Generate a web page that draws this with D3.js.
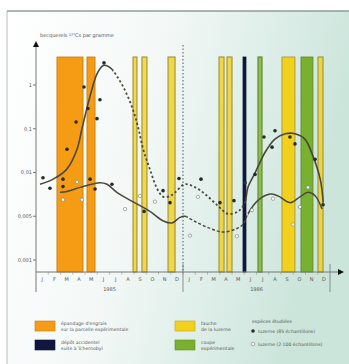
<!DOCTYPE html>
<html>
<head>
<meta charset="utf-8">
<script src="https://cdn.jsdelivr.net/npm/d3@7"></script>
<style>
  body { margin: 0; background: #fff; }
  text { font-family: "DejaVu Sans", sans-serif; fill: #555; }
</style>
</head>
<body>
<script>
// donnees
const months = ["J","F","M","A","M","J","J","A","S","O","N","D"];
const years = ["1985","1986"];
const yTicks = [1, 0.1, 0.01, 0.005, 0.001];
const yTickLabels = ["1","0,1","0,01","0,005","0,001"];

// periodes (en mois depuis janvier de la 1re annee)
const bands = [
  {type:"engrais", start:1.71, end:3.84},
  {type:"engrais", start:4.16, end:4.82},
  {type:"fauche", start:7.92, end:8.24},
  {type:"fauche", start:8.65, end:9.06},
  {type:"fauche", start:10.78, end:11.35},
  {type:"fauche", start:14.94, end:15.35},
  {type:"fauche", start:15.59, end:16.0},
  {type:"accident", start:16.9, end:17.14},
  {type:"coupe", start:18.12, end:18.45},
  {type:"fauche", start:20.08, end:21.14},
  {type:"coupe", start:21.63, end:22.61},
  {type:"fauche", start:23.02, end:23.43}
];

// courbes de tendance [mois, valeur]
const upperTrend = [[0.33,0.0083],[1.4,0.009],[2.5,0.0118],[3.35,0.034],[3.75,0.1],[4.4,0.54],[5.0,1.85],[5.5,2.8],[6.05,2.5],[6.45,1.85],[7.25,0.77],[7.9,0.28],[8.33,0.11],[8.75,0.034],[9.3,0.0118],[9.9,0.0077],[10.4,0.0068],[10.95,0.0069],[11.35,0.0073],[12.15,0.0083],[13.0,0.0079],[13.8,0.0071],[14.85,0.0059],[15.65,0.0052],[16.5,0.0054],[17.05,0.0062],[17.3,0.0079],[17.9,0.01],[18.7,0.029],[19.5,0.058],[20.35,0.077],[21.15,0.077],[21.95,0.058],[22.6,0.024],[23.2,0.009],[23.45,0.0062]];
const lowerTrend = [[1.96,0.0073],[2.53,0.0074],[3.6,0.0079],[5.2,0.0085],[5.8,0.0083],[6.6,0.0073],[7.9,0.0063],[9.3,0.0054],[10.4,0.0042],[11.1,0.0039],[11.75,0.0048],[12.15,0.005],[13.0,0.0041],[14.05,0.0033],[15.2,0.0028],[16.25,0.0031],[16.9,0.0037],[17.3,0.0052],[18.1,0.0064],[19.1,0.0071],[19.75,0.0069],[20.75,0.0062],[21.55,0.0068],[22.2,0.0073],[22.8,0.0069],[23.35,0.0056]];
const upperDashed = [6.3, 17.1];
const lowerDashed = [12.3, 17.3];

// mesures
const filledPoints = [[0.57,0.0092],[1.14,0.0078],[2.2,0.009],[2.2,0.008],[2.53,0.034],[3.27,0.143],[3.92,0.9],[4.24,0.29],[4.98,0.17],[5.22,0.46],[5.55,3.2],[4.41,0.009],[4.82,0.0077],[6.2,0.0083],[8.82,0.0054],[10.37,0.0075],[10.94,0.0062],[11.67,0.0091],[13.47,0.009],[15.02,0.0062],[16.16,0.0064],[17.06,0.0085],[17.88,0.0097],[18.61,0.065],[19.27,0.038],[19.51,0.09],[20.73,0.065],[21.14,0.045],[22.78,0.02],[23.43,0.006]];
const openPoints = [[2.2,0.0065],[3.35,0.0086],[3.76,0.0065],[7.27,0.0056],[8.49,0.0069],[9.71,0.0063],[12.57,0.00245],[13.22,0.0068],[16.4,0.0024],[17.63,0.0055],[19.35,0.0066],[20.98,0.0037],[21.55,0.0058],[22.2,0.0079]];

const legendBands = [
  {type:"engrais", lines:["épandage d'engrais","sur la parcelle expérimentale"]},
  {type:"accident", lines:["dépôt accidentel","suite à Tchernobyl"]},
  {type:"fauche", lines:["fauche","de la luzerne"]},
  {type:"coupe", lines:["coupe","expérimentale"]}
];
const legendSpeciesTitle = "espèces étudiées";
const legendSpecies = ["luzerne (85 échantillons)", "luzerne (2 100 échantillons)"];
const yTitle = "becquerels ¹³⁷Cs par gramme";

const colors = {engrais:"#f59c14", accident:"#10163f", fauche:"#f2d01e", coupe:"#79b02f"};

const W = 349, H = 364;
const plotTop = 57, axisY = 272;

const svg = d3.select("body").append("svg").attr("width", W).attr("height", H);
const defs = svg.append("defs");
const grad = defs.append("linearGradient").attr("id","bg")
  .attr("x1",0).attr("y1",0).attr("x2",1).attr("y2",0.25);
grad.append("stop").attr("offset",0).attr("stop-color","#ffffff");
grad.append("stop").attr("offset",0.45).attr("stop-color","#f3f8f7");
grad.append("stop").attr("offset",1).attr("stop-color","#cbe5db");

svg.append("rect").attr("x",7).attr("y",11).attr("width",W-7).attr("height",H-11).attr("fill","url(#bg)");
svg.append("line").attr("x1",7).attr("x2",W).attr("y1",11).attr("y2",11).attr("stroke","#8d9e9a").attr("stroke-width",1.5);
svg.append("line").attr("x1",7).attr("x2",7).attr("y1",11).attr("y2",H).attr("stroke","#b4bcbb").attr("stroke-width",1);

const x = d3.scaleLinear().domain([0, 24]).range([36, 330]);
const y = d3.scaleLinear().domain(yTicks.map(Math.log10)).range(yTicks.map((d, i) => 85 + i * 43.75));
const yv = v => y(Math.log10(v));

// bandes verticales
const thin = d => x(d.end) - x(d.start) < 7 && d.type !== "accident";
svg.append("g").selectAll("rect").data(bands).join("rect")
  .attr("x", d => x(d.start)).attr("width", d => x(d.end) - x(d.start))
  .attr("y", plotTop).attr("height", axisY - plotTop)
  .attr("fill", d => colors[d.type])
  .attr("fill-opacity", d => thin(d) ? 0.8 : 1)
  .attr("stroke", d => d.type === "fauche" ? "#9d9238" : d3.color(colors[d.type]).darker(0.7))
  .attr("stroke-width", d => thin(d) ? 1.1 : 0.8);

// ligne pointillee de changement d'annee
svg.append("line").attr("x1", x(12)).attr("x2", x(12)).attr("y1", 45).attr("y2", axisY)
  .attr("stroke","#555").attr("stroke-width",1).attr("stroke-dasharray","1.5,2");

// axes
svg.append("line").attr("x1",36).attr("x2",36).attr("y1",46).attr("y2",292).attr("stroke","#777").attr("stroke-width",1);
svg.append("path").attr("d","M33,47 L36,41 L39,47 Z").attr("fill","#111");
svg.append("line").attr("x1",36).attr("x2",339).attr("y1",axisY).attr("y2",axisY).attr("stroke","#777").attr("stroke-width",1);
svg.append("path").attr("d",`M338,${axisY-3} L344,${axisY} L338,${axisY+3} Z`).attr("fill","#111");

svg.append("g").selectAll("line").data(yTicks).join("line")
  .attr("x1",33).attr("x2",36).attr("y1", d => yv(d)).attr("y2", d => yv(d))
  .attr("stroke","#777");
svg.append("g").selectAll("text").data(yTicks).join("text")
  .attr("x",32).attr("y", d => yv(d)).attr("dy","0.35em").attr("text-anchor","end")
  .attr("font-size",5).text((d, i) => yTickLabels[i]);
svg.append("text").attr("x",40).attr("y",37).attr("font-size",5).text(yTitle);

const monthIdx = d3.range(24);
svg.append("g").selectAll("line").data(d3.range(1, 24)).join("line")
  .attr("x1", d => x(d)).attr("x2", d => x(d)).attr("y1", axisY).attr("y2", axisY + 2.5)
  .attr("stroke","#888").attr("stroke-width",0.6);
svg.append("g").selectAll("text").data(monthIdx).join("text")
  .attr("x", d => x(d + 0.5)).attr("y", 281).attr("text-anchor","middle")
  .attr("font-size",5).text(d => months[d % 12]);
svg.append("g").selectAll("line").data([12, 24]).join("line")
  .attr("x1", d => x(d)).attr("x2", d => x(d)).attr("y1", 264).attr("y2", 292)
  .attr("stroke","#777").attr("stroke-width",0.8);
svg.append("g").selectAll("text").data(years).join("text")
  .attr("x", (d, i) => x(i * 12 + 6)).attr("y", 291).attr("text-anchor","middle")
  .attr("font-size",5).text(d => d);

// courbes : parties pleines et pointillees via clipPath
const line = d3.line().x(d => x(d[0])).y(d => yv(d[1])).curve(d3.curveCatmullRom.alpha(0.5));
function clip(id, ranges) {
  const c = defs.append("clipPath").attr("id", id);
  ranges.forEach(r => c.append("rect").attr("x", x(r[0])).attr("width", x(r[1]) - x(r[0])).attr("y", 0).attr("height", H));
}
clip("upSolid", [[0, upperDashed[0]], [upperDashed[1], 24]]);
clip("upDash", [upperDashed]);
clip("lowSolid", [[0, lowerDashed[0]], [lowerDashed[1], 24]]);
clip("lowDash", [lowerDashed]);

const curveColor = "#4a4939";
svg.append("path").attr("d", line(upperTrend)).attr("clip-path","url(#upSolid)")
  .attr("fill","none").attr("stroke",curveColor).attr("stroke-width",1.6);
svg.append("path").attr("d", line(upperTrend)).attr("clip-path","url(#upDash)")
  .attr("fill","none").attr("stroke",curveColor).attr("stroke-width",1.8).attr("stroke-dasharray","2.2,2.4");
svg.append("path").attr("d", line(lowerTrend)).attr("clip-path","url(#lowSolid)")
  .attr("fill","none").attr("stroke",curveColor).attr("stroke-width",1.5);
svg.append("path").attr("d", line(lowerTrend)).attr("clip-path","url(#lowDash)")
  .attr("fill","none").attr("stroke",curveColor).attr("stroke-width",1.4).attr("stroke-dasharray","3,2");

svg.append("g").selectAll("circle").data(openPoints).join("circle")
  .attr("cx", d => x(d[0])).attr("cy", d => yv(d[1])).attr("r",1.7)
  .attr("fill","#fff").attr("stroke","#777").attr("stroke-width",0.6);
svg.append("g").selectAll("circle").data(filledPoints).join("circle")
  .attr("cx", d => x(d[0])).attr("cy", d => yv(d[1])).attr("r",1.8)
  .attr("fill","#2a2a2a");

// legende
const legPos = [[35,321],[35,340],[175,321],[175,340]];
const lg = svg.append("g").selectAll("g").data(legendBands).join("g")
  .attr("transform", (d, i) => `translate(${legPos[i][0]},${legPos[i][1]})`);
lg.append("rect").attr("width",20).attr("height",10)
  .attr("fill", d => colors[d.type]).attr("stroke", d => d3.color(colors[d.type]).darker(0.6)).attr("stroke-width",0.6);
lg.selectAll("text").data(d => d.lines).join("text")
  .attr("x",26).attr("y", (d, i) => 4 + i * 6).attr("font-size",4.6).text(d => d);

svg.append("text").attr("x",252).attr("y",323).attr("font-size",4.6).text(legendSpeciesTitle);
const sp = svg.append("g").selectAll("g").data(legendSpecies).join("g")
  .attr("transform", (d, i) => `translate(253,${331 + i * 13})`);
sp.append("circle").attr("r",1.8)
  .attr("fill", (d, i) => i === 0 ? "#2a2a2a" : "#fff")
  .attr("stroke", (d, i) => i === 0 ? "none" : "#777").attr("stroke-width",0.6);
sp.append("text").attr("x",5).attr("dy","0.35em").attr("font-size",4.6).text(d => d);
</script>
</body>
</html>
